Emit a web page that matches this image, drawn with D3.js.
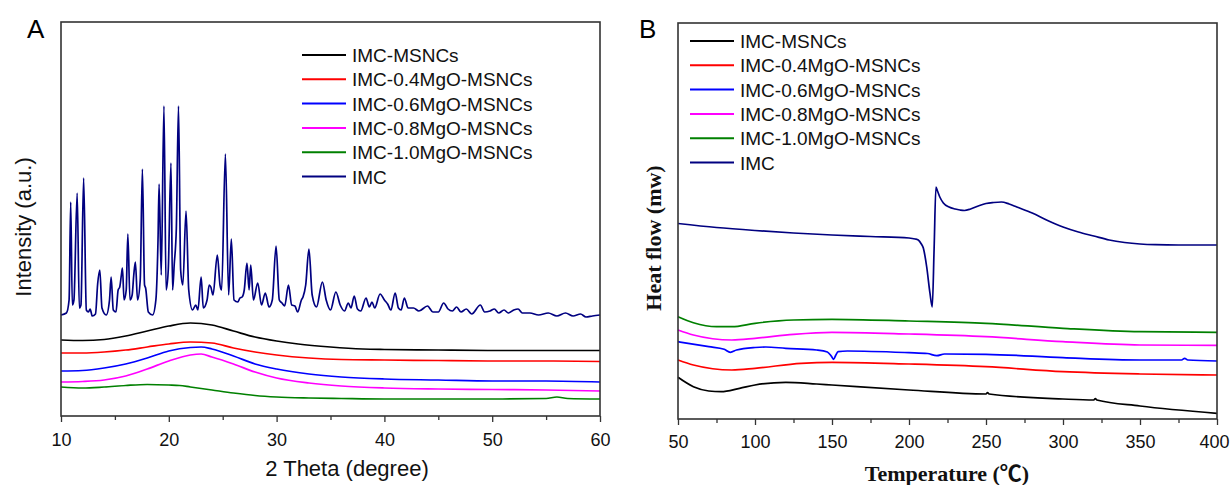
<!DOCTYPE html>
<html>
<head>
<meta charset="utf-8">
<script src="https://cdn.jsdelivr.net/npm/d3@7"></script>
<style>
  body { margin: 0; background: #fff; }
  svg { display: block; }
</style>
</head>
<body>
<div id="chart"></div>
<script>
// legend order / names
const seriesNames = ["IMC-MSNCs", "IMC-0.4MgO-MSNCs", "IMC-0.6MgO-MSNCs",
  "IMC-0.8MgO-MSNCs", "IMC-1.0MgO-MSNCs", "IMC"];
const seriesColors = ["#000000", "#ff0000", "#0000ff", "#ff00ff", "#008000", "#000080"];

// Panel A: XRD, [2theta, intensity a.u.]
const xrdMsncs = [[10,76],[12,75.5],[14,76.5],[16,80],[18,85],[20,90],[22,93],[24,91],[26,85],[28,79],[30,75],[32,72],[35,69],[38,67],[40,66.5],[45,66],[50,65.5],[55,65.5],[60,65.5]];
const xrdMg04 = [[10,63],[12,63],[14,64],[16,66],[18,69],[20,72],[22,74],[24,73],[26,68],[28,64],[30,61],[33,58],[36,56.5],[40,56],[45,55.5],[50,55],[55,55],[60,54.5]];
const xrdMg06 = [[10,45],[12,45.5],[14,48],[16,52],[18,58],[20,65],[22,68.5],[23,69],[24,67],[26,60],[28,52],[30,47],[33,42],[36,39],[40,37],[45,36],[50,35],[55,35],[60,34]];
const xrdMg08 = [[10,34],[12,34.5],[14,36],[16,40],[18,47],[20,55],[22,61],[23,62],[24,59],[26,52],[28,44],[30,38],[33,33],[36,30],[40,28],[45,27],[50,26.5],[55,26],[60,25]];
const xrdMg10 = [[10,29],[12,28],[14,29],[16,30.5],[18,31.5],[20,31],[21,30.5],[22,29],[24,26],[26,23],[28,20.5],[30,19],[33,18],[36,17.5],[40,17],[45,17],[50,17],[55,17.5],[56,19],[57,17.5],[60,17]];
const xrdImc = [[10,101],[10.5,103],[10.75,116],[10.9,214],[11.05,111],[11.2,116],[11.5,223],[11.7,108],[11.85,111],[12.1,238],[12.35,106],[12.55,104],[12.7,107],[12.9,100],[13.2,102],[13.4,132],[13.6,146],[13.8,108],[14.2,101],[14.5,116],[14.65,139],[14.85,106],[15.1,104],[15.3,126],[15.45,129],[15.6,141],[15.7,148],[15.85,116],[16.05,126],[16.2,182],[16.4,116],[16.6,121],[16.75,141],[16.9,154],[17.1,116],[17.35,136],[17.55,247],[17.75,131],[17.85,128],[18.1,104],[18.5,101],[18.8,116],[19.0,176],[19.1,232],[19.3,141],[19.55,310],[19.75,126],[19.95,146],[20.2,253],[20.35,126],[20.5,151],[20.7,188],[20.9,310],[21.1,146],[21.3,131],[21.6,205],[21.85,126],[22.2,106],[22.5,111],[22.7,106],[23.0,139],[23.2,108],[23.55,116],[23.75,131],[23.9,129],[24.1,121],[24.5,161],[24.75,131],[24.9,126],[25.25,262],[25.55,121],[25.8,177],[26.05,116],[26.4,114],[26.6,118],[26.8,119],[27.0,126],[27.25,153],[27.45,126],[27.6,151],[27.85,116],[28.25,133],[28.6,111],[28.95,123],[29.3,109],[29.6,116],[29.95,170],[30.25,116],[30.5,113],[30.75,110],[31.1,131],[31.4,111],[31.7,110],[31.95,104],[32.3,116],[32.45,119],[32.7,131],[33.0,167],[33.3,121],[33.7,109],[34.25,134],[34.6,116],[35.0,106],[35.5,124],[35.9,111],[36.3,105],[36.65,113],[36.9,108],[37.2,120],[37.5,107],[37.8,105],[38.3,118],[38.6,109],[38.85,114],[39.1,108],[39.6,122],[40.0,116],[40.3,112],[40.6,106],[41.0,123],[41.3,108],[41.55,106],[41.85,118],[42.2,108],[42.7,108],[43.2,105],[44.0,110],[44.5,104],[45.0,104],[45.5,113],[45.9,107],[46.3,105],[46.7,109],[47.1,104],[47.6,107],[48.1,102],[48.9,111],[49.3,104],[49.8,105],[50.2,107],[50.6,103],[51.1,106],[51.5,103],[52.0,106],[52.4,107],[52.8,103],[53.5,103],[54.3,101],[55.2,103],[56.0,100],[56.8,103],[57.5,100],[58.2,102],[58.7,99],[59.3,100],[60,101]];
const xrdTicks = [10, 20, 30, 40, 50, 60];
const xrdMinor = [15, 25, 35, 45, 55];

// Panel B: DSC, [temperature C, heat flow]
const dscMsncs = [[50,41.7],[60,32.3],[70,28],[78,27.3],[90,30.7],[100,34],[120,36.7],[140,35],[150,34],[200,29],[250,25],[251,26.5],[252,25],[300,20],[320,19],[321,20.5],[322,19],[350,13],[400,5.7]];
const dscMg04 = [[50,59],[60,54],[85,49],[100,50.7],[130,55.7],[150,56.7],[200,55],[250,52.3],[300,47.3],[350,45],[400,44]];
const dscMg06 = [[50,77.3],[70,72.3],[80,69.7],[84,66.7],[88,69],[100,71.5],[107,72],[120,70.7],[140,69],[147,67],[149.5,63],[151,59.7],[152.5,64],[154,67.3],[160,68],[200,66.3],[212,65.5],[218,63.3],[223,65],[250,64.7],[300,61.3],[350,59],[377,59],[379,60.7],[381,59],[400,58]];
const dscMg08 = [[50,89],[60,84],[85,79],[100,80.7],[125,84.7],[150,86.7],[200,85],[250,82.3],[300,77.3],[350,74],[400,73.7]];
const dscMg10 = [[50,102.3],[60,96.3],[75,92.3],[85,92.3],[100,95.7],[125,99],[150,99.7],[200,98],[250,95.7],[300,90.7],[350,87.3],[400,86.7]];
const dscImc = [[50,195.5],[75,191.5],[100,188.5],[125,186],[150,184],[175,182.5],[200,181],[204,180],[206,179],[208,175],[209.3,171],[211.5,152],[213.6,126],[215.1,112],[216.3,170],[217.5,232],[218.5,228],[220,222],[222.3,216],[226,212],[230,210],[233.1,209],[236,208.5],[240,210],[245,213],[250,215.5],[255,216.5],[260,217],[265,215],[270,212],[280,206],[290,198.5],[300,192],[310,187],[320,183],[330,179],[340,176.5],[350,175],[360,174.3],[375,174],[400,174]];
const dscTicks = [50, 100, 150, 200, 250, 300, 350, 400];
const dscMinor = [75, 125, 175, 225, 275, 325, 375];

const svg = d3.select("#chart").append("svg")
  .attr("width", 1231)
  .attr("height", 485);

const sans = "'Liberation Sans', Arial, sans-serif";
const serif = "'Liberation Serif', 'Times New Roman', 'Noto Sans CJK SC', serif";

function drawPanel(p) {
  const x = d3.scaleLinear().domain(p.xDomain).range([p.left, p.right]);
  const y = d3.scaleLinear().domain(p.yDomain).range([p.bottom, p.top]);

  // minor ticks
  svg.append("g")
    .attr("transform", "translate(0," + p.bottom + ")")
    .call(d3.axisBottom(x).tickValues(p.minor).tickSize(4).tickFormat(""))
    .call(g => g.select(".domain").remove())
    .selectAll("line").attr("stroke", "#333").attr("stroke-width", 1.3);

  // major ticks + labels
  const ax = svg.append("g")
    .attr("transform", "translate(0," + p.bottom + ")")
    .call(d3.axisBottom(x).tickValues(p.ticks).tickSize(6).tickSizeOuter(0).tickPadding(p.pad))
    .call(g => g.select(".domain").remove())
    .call(g => g.selectAll("line").attr("stroke", "#333").attr("stroke-width", 1.3))
    .call(g => g.selectAll("text")
      .attr("fill", "#111")
      .style("font-family", sans)
      .style("font-size", "18px"));

  // last label sits against the page edge
  if (p.lastShift) {
    ax.selectAll("text").filter(d => d === p.ticks[p.ticks.length - 1])
      .attr("dx", p.lastShift);
  }

  const line = d3.line()
    .x(d => x(d[0]))
    .y(d => y(d[1]))
    .curve(d3.curveMonotoneX);

  p.series.forEach((s, i) => {
    svg.append("path")
      .datum(s)
      .attr("fill", "none")
      .attr("stroke", seriesColors[i])
      .attr("stroke-width", 1.7)
      .attr("stroke-linejoin", "round")
      .attr("d", line);
  });

  // frame
  svg.append("rect")
    .attr("x", p.left).attr("y", p.top)
    .attr("width", p.right - p.left).attr("height", p.bottom - p.top)
    .attr("fill", "none").attr("stroke", "#333").attr("stroke-width", 1.6);

  // legend
  seriesNames.forEach((name, i) => {
    const ly = p.legY + i * 24.3;
    svg.append("line")
      .attr("x1", p.legX).attr("x2", p.legX + 44)
      .attr("y1", ly).attr("y2", ly)
      .attr("stroke", seriesColors[i]).attr("stroke-width", 2);
    svg.append("text")
      .attr("x", p.legX + 50).attr("y", ly + 7)
      .style("font-family", sans).style("font-size", "19px")
      .attr("fill", "#111")
      .text(name);
  });

  // panel letter
  svg.append("text")
    .attr("x", p.letterX).attr("y", 38)
    .style("font-family", sans).style("font-size", "26px")
    .text(p.letter);
}

drawPanel({
  xDomain: [10, 60], yDomain: [0, 394],
  left: 61, right: 600, top: 22, bottom: 416, pad: 11.6,
  ticks: xrdTicks, minor: xrdMinor,
  series: [xrdMsncs, xrdMg04, xrdMg06, xrdMg08, xrdMg10, xrdImc],
  legX: 302, legY: 55, letter: "A", letterX: 27
});

drawPanel({
  xDomain: [50, 400], yDomain: [0, 396],
  left: 678, right: 1217, top: 23, bottom: 419, pad: 10.6,
  ticks: dscTicks, minor: dscMinor, lastShift: -3,
  series: [dscMsncs, dscMg04, dscMg06, dscMg08, dscMg10, dscImc],
  legX: 690, legY: 41, letter: "B", letterX: 639
});

// axis titles
svg.append("text")
  .attr("x", 347).attr("y", 476)
  .attr("text-anchor", "middle")
  .style("font-family", sans).style("font-size", "22px")
  .attr("fill", "#111")
  .text("2 Theta (degree)");

svg.append("text")
  .attr("transform", "translate(31,227) rotate(-90)")
  .attr("text-anchor", "middle")
  .style("font-family", sans).style("font-size", "22px")
  .attr("fill", "#111")
  .text("Intensity (a.u.)");

svg.append("text")
  .attr("x", 947).attr("y", 481)
  .attr("text-anchor", "middle")
  .style("font-family", serif).style("font-size", "22px").style("font-weight", "bold")
  .attr("fill", "#111")
  .text("Temperature (℃)");

svg.append("text")
  .attr("transform", "translate(661,238) rotate(-90)")
  .attr("text-anchor", "middle")
  .style("font-family", serif).style("font-size", "22px").style("font-weight", "bold")
  .attr("fill", "#111")
  .text("Heat flow (mw)");
</script>
</body>
</html>
